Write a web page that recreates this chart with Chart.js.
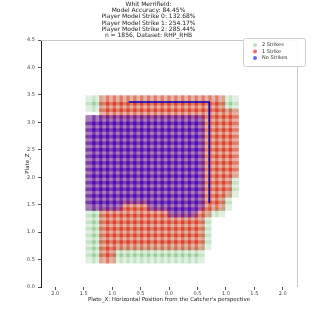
<!DOCTYPE html>
<html>
<head>
<meta charset="utf-8">
<script src="https://cdn.jsdelivr.net/npm/chart.js@4.4.1/dist/chart.umd.min.js"></script>
<style>
    html, body { margin: 0; padding: 0; background: #ffffff; }
</style>
</head>
<body>
<canvas id="zoneChart" width="330" height="330"></canvas>
<script>
// Called strike zone by count for one hitter

// Grid the model was evaluated on
const PLATE_X = [-1.38, -1.26, -1.14, -1.02, -0.90, -0.78, -0.66, -0.54, -0.42, -0.30, -0.18,
                 -0.06, 0.06, 0.18, 0.30, 0.42, 0.54, 0.66, 0.78, 0.90, 1.02, 1.14];
const PLATE_Z = [3.40, 3.28, 3.16, 3.04, 2.92, 2.80, 2.68, 2.56, 2.44, 2.32, 2.20, 2.08, 1.96,
                 1.84, 1.72, 1.60, 1.48, 1.36, 1.24, 1.12, 1.00, 0.88, 0.76, 0.64, 0.52];

// Per row of PLATE_Z: column ranges [first, last] of PLATE_X called a strike
const TWO_STRIKE_SPANS = [
    [[0, 21]], [[0, 21]], [[2, 21]], [[0, 21]], [[0, 21]], [[0, 21]], [[0, 21]],
    [[0, 21]], [[0, 21]], [[0, 21]], [[0, 21]], [[0, 21]], [[0, 21]], [[0, 21]],
    [[0, 21]], [[0, 20]], [[0, 20]], [[0, 19]], [[0, 17]], [[0, 17]], [[0, 17]],
    [[0, 17]], [[0, 17]], [[0, 16]], [[0, 16]]
];
const ONE_STRIKE_SPANS = [
    [[2, 19]], [[2, 19]], [[2, 21]], [[0, 21]], [[0, 21]], [[0, 21]], [[0, 21]],
    [[0, 21]], [[0, 21]], [[0, 21]], [[0, 21]], [[0, 21]], [[0, 20]], [[0, 20]],
    [[0, 20]], [[0, 19]], [[0, 19]], [[2, 17]], [[2, 16]], [[2, 16]], [[2, 16]],
    [[2, 16]], [[2, 16]], [[2, 3]], [[2, 3]]
];
const NO_STRIKE_SPANS = [
    [], [], [], [[0, 16]], [[0, 16]], [[0, 16]], [[0, 16]],
    [[0, 16]], [[0, 16]], [[0, 16]], [[0, 16]], [[0, 16]], [[0, 16]], [[0, 16]],
    [[0, 16]], [[0, 16]], [[0, 4], [9, 16]], [[12, 15]], [], [], [],
    [], [], [], []
];

// Top and outside edge of the rule book zone
const ZONE_X = [-0.708, 0.708, 0.708];
const ZONE_Z = [3.37, 3.37, 1.53];

const X_TICKS = [-2.0, -1.5, -1.0, -0.5, 0.0, 0.5, 1.0, 1.5, 2.0];
const Y_TICKS = [0.0, 0.5, 1.0, 1.5, 2.0, 2.5, 3.0, 3.5, 4.0, 4.5];

const TITLE_LINES = [
    'Whit Merrifield:',
    'Model Accuracy: 84.45%',
    'Player Model Strike 0: 132.68%',
    'Player Model Strike 1: 254.17%',
    'Player Model Strike 2: 285.44%',
    'n = 1856, Dataset: RHP_RHB'
];

const FONT = "'DejaVu Sans', sans-serif";

// Turn row spans into grid points
function expandSpans(spans) {
    const pts = [];
    spans.forEach((rowSpans, r) => {
        rowSpans.forEach(([a, b]) => {
            for (let c = a; c <= b; c++) {
                pts.push({ x: PLATE_X[c], y: PLATE_Z[r] });
            }
        });
    });
    return pts;
}

function gridSet(label, spans, color, legendColor, order) {
    return {
        label,
        data: expandSpans(spans),
        backgroundColor: color,
        legendColor,
        pointStyle: 'rect',
        pointRadius: 7.07,
        pointBorderWidth: 0,
        borderWidth: 0,
        order
    };
}

// Light top/right frame
const frame = {
    id: 'frame',
    afterDraw(chart) {
        const { ctx, chartArea: a } = chart;
        ctx.save();
        ctx.strokeStyle = '#c8c8c8';
        ctx.lineWidth = 1;
        ctx.beginPath();
        ctx.moveTo(a.left, a.top + 0.5);
        ctx.lineTo(a.right + 0.5, a.top + 0.5);
        ctx.lineTo(a.right + 0.5, a.bottom);
        ctx.stroke();
        ctx.restore();
    }
};

// Legend box in the upper right corner
const cornerLegend = {
    id: 'cornerLegend',
    afterDraw(chart) {
        const { ctx, chartArea: a } = chart;
        const items = chart.data.datasets.filter(d => d.legendColor);
        const x0 = a.right - 54, y0 = a.top - 2, w = 62, h = 28;
        ctx.save();
        ctx.fillStyle = 'rgba(255,255,255,0.9)';
        ctx.strokeStyle = '#d0d0d0';
        ctx.lineWidth = 1;
        ctx.beginPath();
        ctx.roundRect(x0 + 0.5, y0 + 0.5, w, h, 2);
        ctx.fill();
        ctx.stroke();
        ctx.font = '5px ' + FONT;
        ctx.textBaseline = 'middle';
        items.forEach((d, i) => {
            const y = y0 + 7 + i * 6.5;
            ctx.fillStyle = d.legendColor;
            ctx.beginPath();
            ctx.arc(x0 + 12, y, 2, 0, Math.PI * 2);
            ctx.fill();
            ctx.fillStyle = '#333';
            ctx.fillText(d.label, x0 + 19, y);
        });
        ctx.restore();
    }
};

new Chart(document.getElementById('zoneChart'), {
    type: 'scatter',
    data: {
        datasets: [
            gridSet('2 Strikes', TWO_STRIKE_SPANS, 'rgba(0,128,0,0.12)', 'rgba(0,128,0,0.25)', 4),
            gridSet('1 Strike', ONE_STRIKE_SPANS, 'rgba(250,10,0,0.27)', 'rgba(255,0,0,0.6)', 3),
            {
                label: 'zone',
                data: ZONE_X.map((x, i) => ({ x, y: ZONE_Z[i] })),
                showLine: true,
                borderColor: '#0000c8',
                borderWidth: 1.5,
                pointRadius: 0,
                order: 2
            },
            gridSet('No Strikes', NO_STRIKE_SPANS, 'rgba(30,0,240,0.3)', 'rgba(0,0,255,0.6)', 1)
        ]
    },
    options: {
        responsive: false,
        animation: false,
        events: [],
        devicePixelRatio: 1,
        layout: { padding: { left: 0, right: 33, top: 0, bottom: 0 } },
        plugins: {
            legend: { display: false },
            tooltip: { enabled: false },
            title: {
                display: true,
                text: TITLE_LINES,
                color: '#222',
                font: { family: FONT, size: 6, weight: 'normal', lineHeight: 1.05 },
                padding: { top: 1, bottom: 1.2 }
            }
        },
        scales: {
            x: {
                type: 'linear',
                min: -2.25,
                max: 2.25,
                afterBuildTicks: s => { s.ticks = X_TICKS.map(v => ({ value: v })); },
                afterFit: s => { s.height = 43; },
                border: { display: false },
                grid: { drawOnChartArea: false, drawTicks: true, tickLength: 3, color: '#555' },
                ticks: {
                    color: '#444',
                    padding: 1,
                    maxRotation: 0,
                    font: { family: FONT, size: 5 },
                    callback: v => Math.abs(v).toFixed(1)
                },
                title: {
                    display: true,
                    text: "Plate_X: Horizontal Position from the Catcher's perspective",
                    color: '#222',
                    font: { family: FONT, size: 5.5 },
                    padding: { top: 0, bottom: 27 }
                }
            },
            y: {
                type: 'linear',
                min: 0,
                max: 4.5,
                afterBuildTicks: s => { s.ticks = Y_TICKS.map(v => ({ value: v })); },
                afterFit: s => { s.width = 41; },
                border: { display: true, color: '#222', width: 1 },
                grid: { drawOnChartArea: false, drawTicks: true, tickLength: 3, color: '#555' },
                ticks: {
                    color: '#444',
                    padding: 3,
                    font: { family: FONT, size: 5 },
                    callback: v => v.toFixed(1)
                },
                title: {
                    display: true,
                    text: 'Plate_Z',
                    color: '#222',
                    font: { family: FONT, size: 5.5 },
                    padding: { top: 24, bottom: 0 }
                }
            }
        }
    },
    plugins: [frame, cornerLegend]
});
</script>
</body>
</html>
